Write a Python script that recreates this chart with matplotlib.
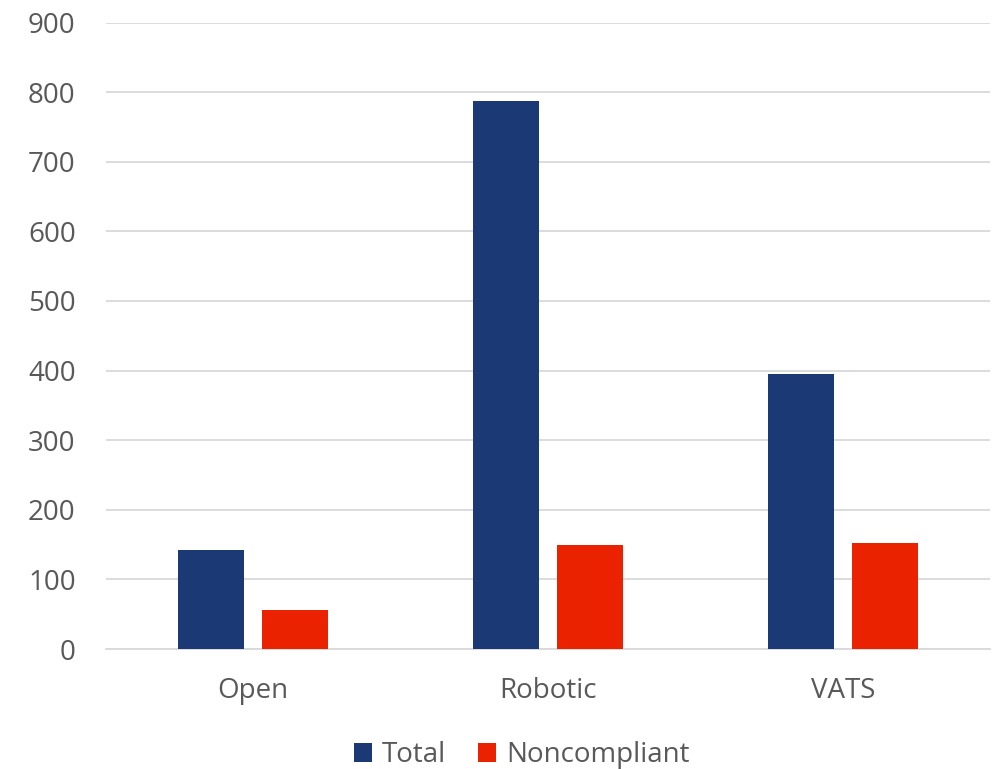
import matplotlib
matplotlib.use("Agg")
import matplotlib.pyplot as plt
import numpy as np

categories = ["Open", "Robotic", "VATS"]
total = [142, 787, 395]
noncompliant = [56, 149, 152]
yticks = [0, 100, 200, 300, 400, 500, 600, 700, 800, 900]

plt.rcParams['font.family'] = ['Open Sans', 'DejaVu Sans']
txt = '#595959'

fig = plt.figure(figsize=(10.07, 7.69), dpi=100)
ax = fig.add_axes([0.1048, 0.156, 0.8788, 0.8147])

x = np.arange(len(categories))
w = 0.224
off = (w + 0.061) / 2
ax.bar(x - off, total, w, color='#1B3A75', label='Total', zorder=3)
ax.bar(x + off, noncompliant, w, color='#EB2200', label='Noncompliant', zorder=3)

ax.set_xlim(-0.5, 2.5)
ax.set_ylim(0, 900)
ax.set_yticks(yticks)
ax.set_xticks(x)
ax.set_xticklabels(categories)
ax.tick_params(axis='both', length=0, labelsize=20, colors=txt)
ax.tick_params(axis='y', pad=21.5)
ax.tick_params(axis='x', pad=20)
ax.grid(axis='y', color='#D9D9D9', linewidth=1.3, zorder=0)
for s in ['top', 'right', 'left']:
    ax.spines[s].set_visible(False)
ax.spines['bottom'].set_color('#D9D9D9')
ax.spines['bottom'].set_linewidth(1.3)

leg = fig.legend(loc='center', bbox_to_anchor=(0.518, 0.018), ncol=2, frameon=False,
                 fontsize=20, handlelength=0.65, handleheight=0.65, handletextpad=0.35,
                 columnspacing=1.15, labelcolor=txt)

fig.savefig('out.png', dpi=100)
